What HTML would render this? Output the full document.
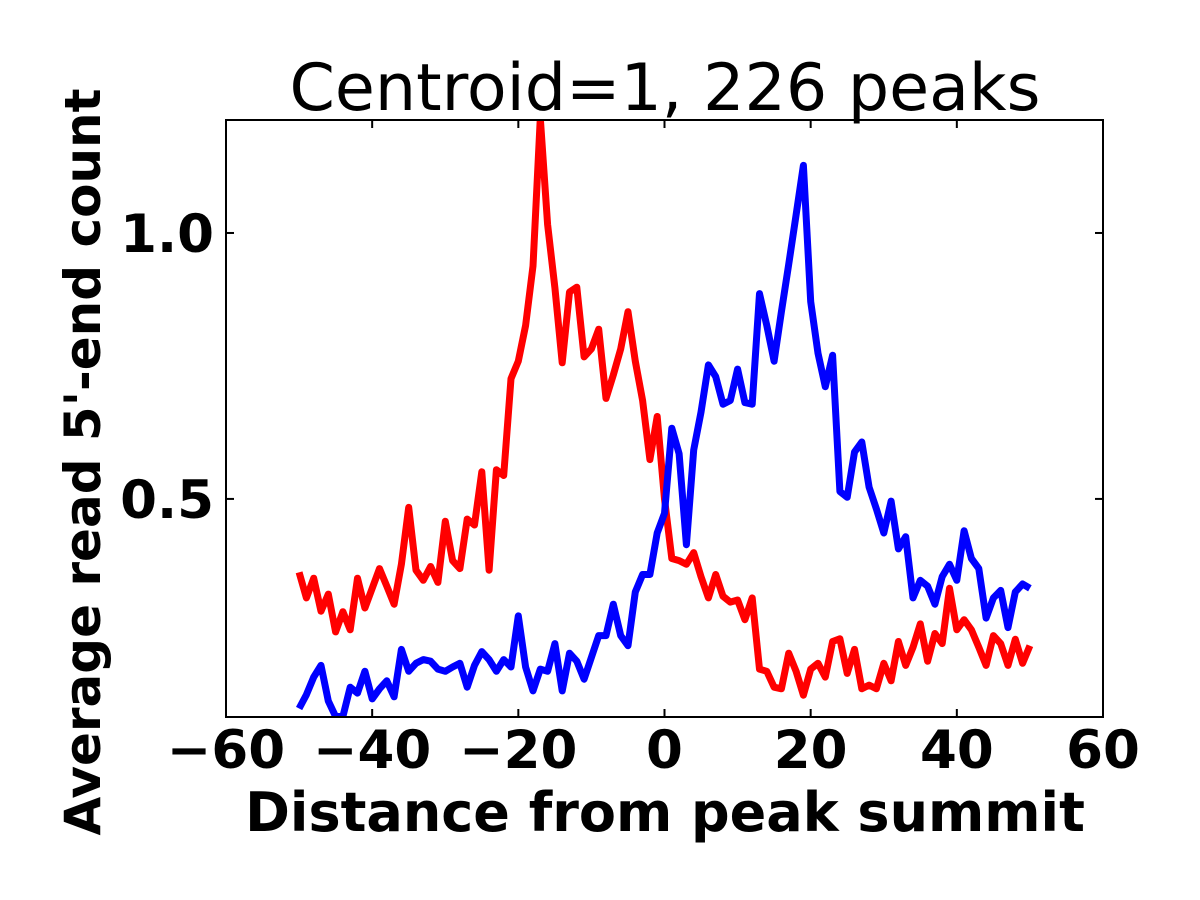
<!DOCTYPE html>
<html><head><meta charset="utf-8"><style>
html,body{margin:0;padding:0;background:#fff;}
svg{display:block;font-family:"DejaVu Sans","Liberation Sans",sans-serif;}
</style></head><body>
<svg id="chart" width="1200" height="900">
<defs><clipPath id="clip"><rect x="226" y="120" width="877" height="597"/></clipPath></defs>
<rect x="0" y="0" width="1200" height="900" fill="#fff"/>
<text x="665" y="110" font-size="65" text-anchor="middle">Centroid=1, 226 peaks</text>
<g id="series" clip-path="url(#clip)"></g>
<rect x="226" y="120" width="877" height="597" fill="none" stroke="#000" stroke-width="2"/>
<g id="ticks"></g>
<text x="665" y="831" font-size="54" font-weight="bold" text-anchor="middle">Distance from peak summit</text>
<text transform="translate(100,462) rotate(-90)" font-size="50" font-weight="bold" text-anchor="middle">Average read 5'-end count</text>
</svg>
<script>
const xTicks=[-60,-40,-20,0,20,40,60];
const yTicks=[0.5,1.0];
const yTickLabels=["0.5","1.0"];
const positions=[-50,-49,-48,-47,-46,-45,-44,-43,-42,-41,-40,-39,-38,-37,-36,-35,-34,-33,-32,-31,-30,-29,-28,-27,-26,-25,-24,-23,-22,-21,-20,-19,-18,-17,-16,-15,-14,-13,-12,-11,-10,-9,-8,-7,-6,-5,-4,-3,-2,-1,0,1,2,3,4,5,6,7,8,9,10,11,12,13,14,15,16,17,18,19,20,21,22,23,24,25,26,27,28,29,30,31,32,33,34,35,36,37,38,39,40,41,42,43,44,45,46,47,48,49,50];
const redValues=[0.362,0.314,0.351,0.289,0.321,0.250,0.288,0.254,0.351,0.295,0.332,0.369,0.336,0.302,0.377,0.484,0.366,0.347,0.373,0.343,0.458,0.384,0.369,0.462,0.451,0.551,0.366,0.555,0.544,0.726,0.759,0.826,0.938,1.216,1.016,0.897,0.756,0.889,0.898,0.767,0.782,0.819,0.689,0.733,0.782,0.852,0.759,0.685,0.574,0.655,0.50,0.388,0.384,0.377,0.399,0.354,0.314,0.358,0.317,0.306,0.310,0.273,0.314,0.180,0.176,0.146,0.143,0.210,0.176,0.131,0.180,0.191,0.165,0.232,0.237,0.172,0.217,0.143,0.150,0.143,0.191,0.158,0.232,0.187,0.221,0.265,0.195,0.247,0.228,0.332,0.254,0.273,0.254,0.221,0.187,0.243,0.228,0.187,0.236,0.191,0.224];
const blueValues=[0.106,0.132,0.165,0.187,0.120,0.091,0.091,0.146,0.135,0.176,0.124,0.143,0.158,0.128,0.217,0.176,0.191,0.198,0.195,0.180,0.176,0.184,0.191,0.146,0.187,0.213,0.198,0.176,0.198,0.184,0.280,0.184,0.139,0.180,0.176,0.228,0.139,0.210,0.195,0.161,0.202,0.243,0.243,0.302,0.243,0.224,0.325,0.358,0.358,0.436,0.473,0.633,0.585,0.414,0.592,0.663,0.752,0.730,0.678,0.685,0.744,0.681,0.678,0.886,0.826,0.759,0.852,0.941,1.034,1.127,0.871,0.774,0.711,0.770,0.514,0.503,0.588,0.607,0.522,0.481,0.436,0.496,0.406,0.429,0.314,0.347,0.336,0.302,0.354,0.377,0.347,0.440,0.388,0.369,0.276,0.314,0.328,0.258,0.325,0.340,0.332];
const NS="http://www.w3.org/2000/svg";
const X0=226,X1=1103,Y0=717,Y1=120,XMIN=-60,XMAX=60,YMIN=0.09,YMAX=1.2124;
function xs(v){return X0+(v-XMIN)/(XMAX-XMIN)*(X1-X0);}
function ys(v){return Y0-(v-YMIN)/(YMAX-YMIN)*(Y0-Y1);}
const g=document.getElementById('series');
function line(vals,color,name){
  const p=document.createElementNS(NS,'polyline');
  p.setAttribute('points',vals.map((v,i)=>xs(positions[i]).toFixed(1)+','+ys(v).toFixed(1)).join(' '));
  p.setAttribute('fill','none');p.setAttribute('stroke',color);p.setAttribute('stroke-width','7');
  p.setAttribute('stroke-linejoin','round');
  
  
  g.appendChild(p);
}
line(redValues,'#ff0000','red-series-line');
line(blueValues,'#0000ff','blue-series-line');
const t=document.getElementById('ticks');
function mk(tag,attrs){const e=document.createElementNS(NS,tag);for(const k in attrs)e.setAttribute(k,attrs[k]);t.appendChild(e);return e;}
xTicks.forEach(v=>{
  const x=xs(v);
  const a=mk('line',{x1:x,x2:x,y1:Y0,y2:Y0-8,stroke:'#000','stroke-width':2});
  
  
  const b=mk('line',{x1:x,x2:x,y1:Y1,y2:Y1+8,stroke:'#000','stroke-width':2});
  
  
  const tx=mk('text',{x:x,y:768,'font-size':53,'font-weight':'bold','text-anchor':'middle'});
  tx.textContent=(v<0?'\u2212'+Math.abs(v):String(v));
  
  
});
yTicks.forEach((v,i)=>{
  const y=ys(v);
  const a=mk('line',{x1:X0,x2:X0+8,y1:y,y2:y,stroke:'#000','stroke-width':2});
  
  
  const b=mk('line',{x1:X1,x2:X1-8,y1:y,y2:y,stroke:'#000','stroke-width':2});
  
  
  const tx=mk('text',{x:214,y:y+19,'font-size':53,'font-weight':'bold','text-anchor':'end'});
  tx.textContent=yTickLabels[i];
  
  
});
</script>
</body></html>
